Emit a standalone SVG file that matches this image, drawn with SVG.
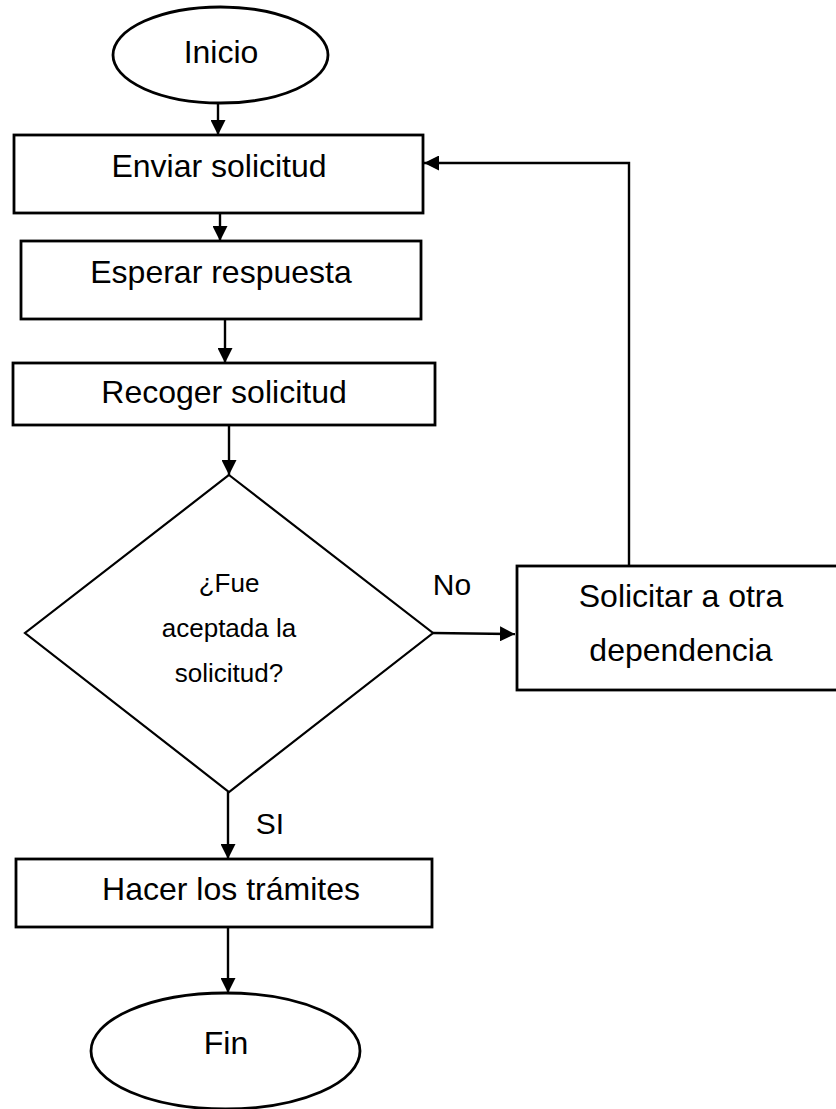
<svg xmlns="http://www.w3.org/2000/svg" width="836" height="1109" viewBox="0 0 836 1109">
<style>
.shape{fill:#fff;stroke:#000;stroke-width:2.8}
.dia{fill:#fff;stroke:#000;stroke-width:2.2}
.lbl{font-family:"Liberation Sans",Arial,sans-serif;font-size:32px;fill:#000;text-anchor:middle}
.small{font-size:26px}
.edge{fill:none;stroke:#000;stroke-width:2.4}
</style>
<defs>
<marker id="arr" markerUnits="userSpaceOnUse" markerWidth="15" markerHeight="15" refX="15" refY="7.5" orient="auto">
<path d="M0,0 L15,7.5 L0,15 z" fill="#000"/>
</marker>
</defs>
<rect width="836" height="1109" fill="#fff"/>
<g id="connectors">
<line class="edge" x1="218" y1="103" x2="218" y2="135" marker-end="url(#arr)"/>
<line class="edge" x1="220" y1="213" x2="220" y2="241" marker-end="url(#arr)"/>
<line class="edge" x1="225" y1="319" x2="225" y2="363" marker-end="url(#arr)"/>
<line class="edge" x1="229" y1="425" x2="229" y2="475" marker-end="url(#arr)"/>
<line class="edge" x1="433" y1="633" x2="515" y2="634" marker-end="url(#arr)"/>
<polyline class="edge" points="629,566 629,163 424,163" marker-end="url(#arr)"/>
<line class="edge" x1="228" y1="792" x2="228" y2="859" marker-end="url(#arr)"/>
<line class="edge" x1="228" y1="927" x2="228" y2="993" marker-end="url(#arr)"/>
<text class="lbl" x="452" y="595" style="font-size:30px">No</text>
<text class="lbl" x="270" y="834" style="font-size:30px">SI</text>
</g>
<g id="inicio">
<ellipse class="shape" cx="220.5" cy="55" rx="107.5" ry="48"/>
<text class="lbl" x="221" y="63">Inicio</text>
</g>
<g id="enviar">
<rect class="shape" x="14" y="135" width="409" height="78"/>
<text class="lbl" x="219" y="177">Enviar solicitud</text>
</g>
<g id="esperar">
<rect class="shape" x="21" y="241" width="400" height="78"/>
<text class="lbl" x="221" y="283">Esperar respuesta</text>
</g>
<g id="recoger">
<rect class="shape" x="13" y="363" width="422" height="62"/>
<text class="lbl" x="224" y="403">Recoger solicitud</text>
</g>
<g id="decision">
<polygon class="dia" points="229,475 433,633 229,792 25,633"/>
<text class="lbl small" x="229" y="592">¿Fue</text>
<text class="lbl small" x="229" y="637">aceptada la</text>
<text class="lbl small" x="229" y="682">solicitud?</text>
</g>
<g id="solicitar">
<rect class="shape" x="517" y="566" width="330" height="124"/>
<text class="lbl" x="681" y="607">Solicitar a otra</text>
<text class="lbl" x="681" y="661">dependencia</text>
</g>
<g id="hacer">
<rect class="shape" x="16" y="859" width="416" height="68"/>
<text class="lbl" x="231" y="900">Hacer los trámites</text>
</g>
<g id="fin">
<ellipse class="shape" cx="225.5" cy="1051" rx="134.5" ry="58"/>
<text class="lbl" x="226" y="1054">Fin</text>
</g>
</svg>
